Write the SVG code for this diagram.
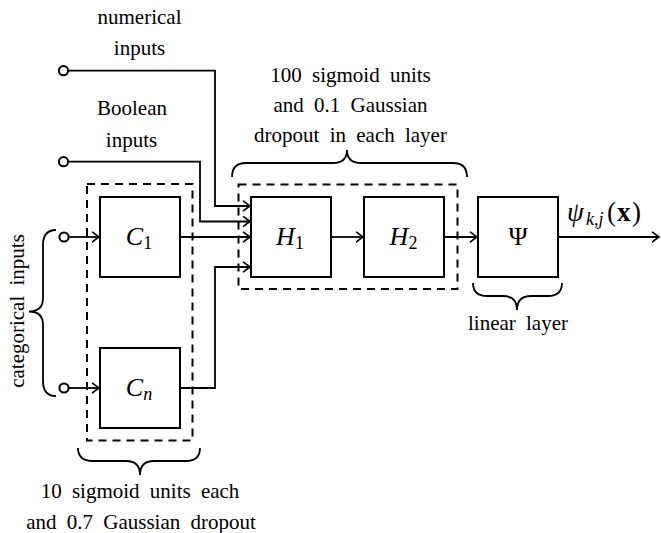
<svg xmlns="http://www.w3.org/2000/svg" width="661" height="533" viewBox="0 0 661 533" font-family="'Liberation Serif', 'Times New Roman', serif">
  <defs>
    <marker id="arrow" markerUnits="userSpaceOnUse" markerWidth="14" markerHeight="14" viewBox="-8 -7 10 14" refX="0" refY="0" orient="auto" overflow="visible">
      <path d="M -6.5 -4.8 Q -2 -1.3 0 0 Q -2 1.3 -6.5 4.8" fill="none" stroke="#000" stroke-width="1.6" stroke-linecap="round"/>
    </marker>
  </defs>
  <style>
    text { font-family: "Liberation Serif", "Times New Roman", serif; fill: #000; }
    .box { fill: #fff; stroke: #000; stroke-width: 2; }
    .group { fill: none; stroke: #000; stroke-width: 2; stroke-dasharray: 8 6; }
    .wire { fill: none; stroke: #000; stroke-width: 1.8; }
    .arr { marker-end: url(#arrow); }
    .port { fill: #fff; stroke: #000; stroke-width: 2; }
    .brace { fill: none; stroke: #000; stroke-width: 1.8; }
    .lbl { font-size: 21px; text-anchor: middle; word-spacing: 5px; }
    .math { font-size: 26px; text-anchor: middle; }
    .it { font-style: italic; }
    .sub { font-size: 18px; }
  </style>

  <!-- dashed groupings -->
  <g id="categorical-group">
    <rect class="group" x="87" y="184" width="105.5" height="256.5"/>
  </g>
  <g id="hidden-group">
    <rect class="group" x="238.5" y="184.5" width="219" height="104.5"/>
  </g>

  <!-- connectors -->
  <g id="connectors">
    <path class="wire arr" d="M 68 70.7 H 215 V 206 H 250"/>
    <path class="wire arr" d="M 68 161.7 H 200 V 221.5 H 250"/>
    <path class="wire arr" d="M 68.5 237 H 99"/>
    <path class="wire arr" d="M 68.5 388 H 99"/>
    <path class="wire arr" d="M 180 237 H 250"/>
    <path class="wire arr" d="M 180 388 H 215 V 267 H 250"/>
    <path class="wire arr" d="M 331 237 H 363"/>
    <path class="wire arr" d="M 444 237 H 477"/>
    <path class="wire arr" d="M 558 237 H 659"/>
  </g>

  <!-- input ports -->
  <g id="numerical-inputs">
    <circle class="port" cx="63.5" cy="70.7" r="4.6"/>
    <text class="lbl" x="139.5" y="24">numerical</text>
    <text class="lbl" x="139.5" y="55">inputs</text>
  </g>
  <g id="boolean-inputs">
    <circle class="port" cx="63.5" cy="161.7" r="4.6"/>
    <text class="lbl" x="132" y="115">Boolean</text>
    <text class="lbl" x="131.5" y="147">inputs</text>
  </g>
  <g id="categorical-inputs">
    <circle class="port" cx="64" cy="237" r="4.6"/>
    <circle class="port" cx="64" cy="388" r="4.6"/>
    <path class="brace" d="M 56 230 Q 43 230 43 245 L 43 298 Q 43 311.5 29 311.5 Q 43 311.5 43 325 L 43 381 Q 43 396 56 396"/>
    <text class="lbl" transform="translate(24 311) rotate(-90)" x="0" y="0">categorical inputs</text>
  </g>

  <!-- categorical embedding blocks -->
  <g id="C1">
    <rect class="box" x="100" y="197" width="80" height="80"/>
    <text class="math" x="139" y="245"><tspan class="it">C</tspan><tspan class="sub" dy="4">1</tspan></text>
  </g>
  <g id="Cn">
    <rect class="box" x="100" y="348" width="80" height="80"/>
    <text class="math" x="139" y="396"><tspan class="it">C</tspan><tspan class="sub it" dy="4">n</tspan></text>
  </g>
  <g id="categorical-note">
    <path class="brace" d="M 78 448 Q 78 461 93 461 L 126 461 Q 140 461 140 475 Q 140 461 154 461 L 186 461 Q 200 461 200 448"/>
    <text class="lbl" x="140" y="498">10 sigmoid units each</text>
    <text class="lbl" x="141" y="528.5">and 0.7 Gaussian dropout</text>
  </g>

  <!-- hidden layers -->
  <g id="H1">
    <rect class="box" x="251" y="197" width="80" height="80"/>
    <text class="math" x="290" y="245"><tspan class="it">H</tspan><tspan class="sub" dy="4">1</tspan></text>
  </g>
  <g id="H2">
    <rect class="box" x="364" y="197" width="80" height="80"/>
    <text class="math" x="403.5" y="245"><tspan class="it">H</tspan><tspan class="sub" dy="4">2</tspan></text>
  </g>
  <g id="hidden-note">
    <path class="brace" d="M 232 177 Q 232 163 246 163 L 333 163 Q 347 163 347 150 Q 347 163 361 163 L 453 163 Q 467 163 467 177"/>
    <text class="lbl" x="350.5" y="82">100 sigmoid units</text>
    <text class="lbl" x="350.5" y="112">and 0.1 Gaussian</text>
    <text class="lbl" x="350.5" y="141.5">dropout in each layer</text>
  </g>

  <!-- linear output layer -->
  <g id="Psi">
    <rect class="box" x="478" y="197" width="80" height="80"/>
    <text class="math" x="518" y="245" font-weight="normal">Ψ</text>
  </g>
  <g id="linear-note">
    <path class="brace" d="M 473 283 Q 473 296 487 296 L 503 296 Q 517 296 517 310 Q 517 296 531 296 L 548 296 Q 562 296 562 283"/>
    <text class="lbl" x="518" y="330">linear layer</text>
  </g>
  <g id="output">
    <text style="font-size:27px"><tspan class="it" x="567" y="221">ψ</tspan><tspan class="it" style="font-size:18px" x="586" y="225">k,j</tspan><tspan x="607" y="221">(</tspan><tspan font-weight="bold" x="617" y="221">x</tspan><tspan x="632" y="221">)</tspan></text>
  </g>
</svg>
